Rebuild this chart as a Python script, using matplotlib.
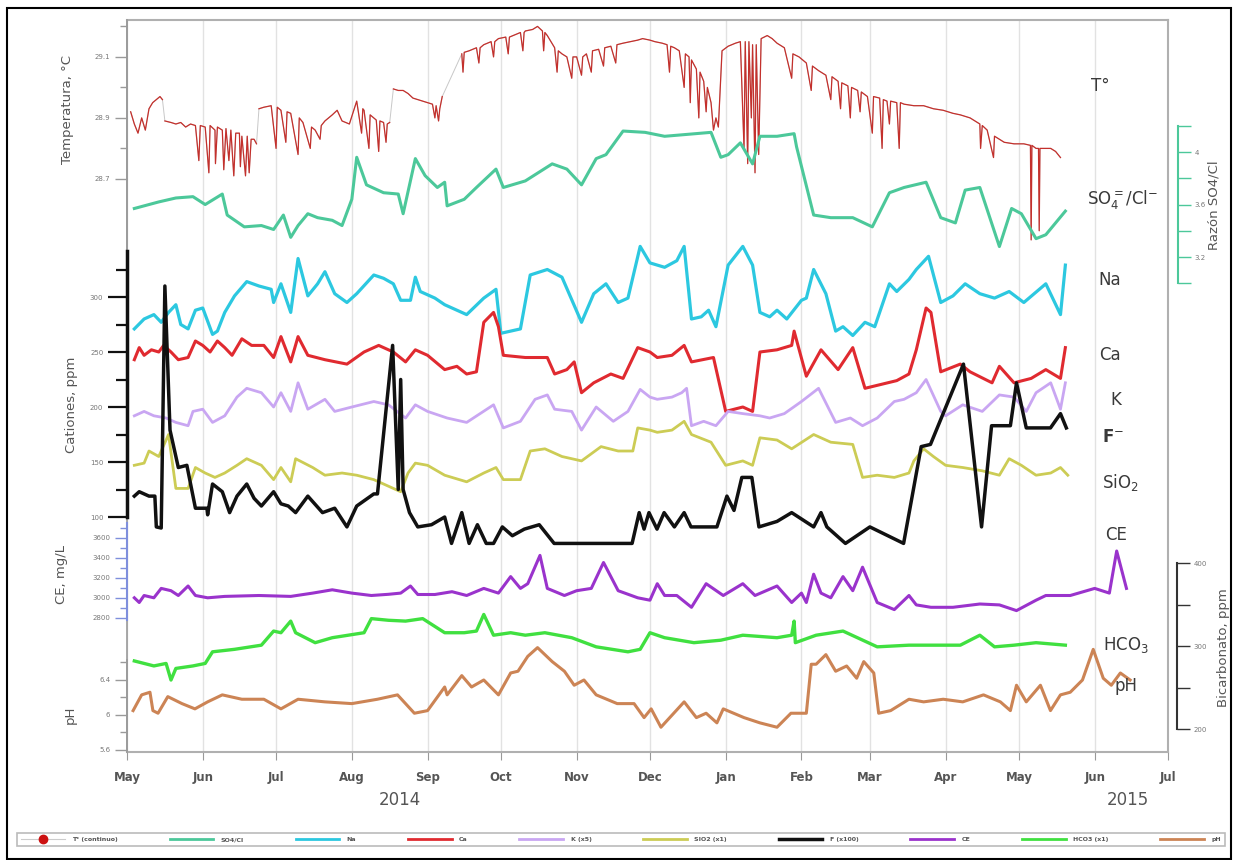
import numpy as np
import matplotlib
matplotlib.use('Agg')
import matplotlib.pyplot as plt
import matplotlib.dates as mdates
from matplotlib.lines import Line2D
from matplotlib.patches import Rectangle

# ---------------- data (day offsets from 2014-05-01, value) ----------------
month_labels = ['May', 'Jun', 'Jul', 'Aug', 'Sep', 'Oct', 'Nov', 'Dec',
                'Jan', 'Feb', 'Mar', 'Apr', 'May', 'Jun', 'Jul']
year_labels = ['2014', '2015']

temp_seg1 = [(1.5,28.92),(3,28.88),(4.5,28.85),(6,28.90),(7.5,28.86),(9,28.93),(10.5,28.95),
             (12,28.96),(13.5,28.97),(14.5,28.96)]
temp_seg2 = [(15.5,28.89),(18,28.885),(20,28.88),(22,28.885),(24,28.87),(26,28.88),(28,28.875),
             (29.4,28.76),(30,28.875),(32,28.87),(33.5,28.72),(34,28.875),(36,28.86),(36.2,28.75),
             (37,28.87),(39,28.86),(39.6,28.73),(40.5,28.865),(41.7,28.76),(42.5,28.86),(43.7,28.71),
             (44.5,28.85),(46,28.85),(46.4,28.74),(47,28.84),(48.5,28.71),(49.2,28.84),(50,28.72),
             (50.8,28.83),(52,28.83),(53,28.815)]
temp_seg3 = [(54,28.93),(56,28.935),(59,28.94),(61,28.80),(61.5,28.935),(63,28.925),(65,28.82),
             (65.5,28.92),(67,28.915),(70,28.78),(70.5,28.90),(72,28.885),(75,28.80),(75.5,28.87),
             (77,28.86),(79,28.83),(79.5,28.875),(81,28.89),(84,28.91),(86,28.925),(88,28.89),
             (91,28.88),(94,28.955),(96,28.85),(96.5,28.93),(97,28.925),(99,28.80),(99.5,28.91),
             (102,28.893),(103,28.79),(103.5,28.89),(105,28.885),(106,28.82),(106.5,28.88),(107.5,28.885)]
temp_seg4 = [(109,28.995),(111,28.99),(113,28.99),(115,28.98),(117,28.965),(119,28.96),(121,28.955),
             (123,28.95),(125,28.945),(126,28.90),(126.5,28.94),(127.5,28.89),(128,28.93),(129,28.97)]
temp_seg5 = [(137,29.11),(137.5,29.05),(138,29.115),(140,29.12),(143,29.13),(144,29.08),(144.5,29.13),
             (146,29.14),(149,29.15),(150,29.10),(150.5,29.15),(152,29.16),(155,29.165),(156,29.11),
             (156.5,29.165),(158,29.17),(161,29.18),(162,29.12),(162.5,29.18),(163,29.185),(166,29.19),
             (168,29.20),(170,29.185),(170.5,29.12),(171,29.18),(172,29.17),(175,29.13),(176,29.05),
             (176.5,29.12),(178,29.11),(180,29.10),(182,29.03),(182.5,29.10),(184,29.10),(186,29.04),
             (186.5,29.10),(188,29.11),(190,29.05),(190.5,29.12),(193,29.125),(195,29.07),(195.5,29.13),
             (198,29.135),(200,29.08),(200.5,29.14),(203,29.145),(206,29.15),(209,29.155),(211,29.16),
             (214,29.155),(216,29.15),(219,29.145),(221,29.14),(222,29.05),(222.5,29.135),(224,29.13),
             (226,29.12),(228,29.00),(228.5,29.11),(230,29.10),(230.5,28.95),(231,29.09),(233,29.06),
             (234,28.90),(234.5,29.05),(236,29.02),(237,28.92),(237.5,29.00),(239,28.95),(240,28.86),
             (241,28.90),(242,28.87),(243.5,29.12),(246,29.135),(249,29.145),(251,29.15),(252.5,28.80),
             (253,29.15),(254,28.75),(254.5,29.15),(255.5,28.90),(256,29.14),(257,28.72),(257.5,29.14),
             (258.5,28.78),(259.5,29.16),(262,29.17),(264,29.16),(266,29.145),(269,29.13),(272,29.03),
             (272.5,29.11),(275,29.10),(278,29.08),(280,28.99),(280.5,29.07),(283,29.055),(286,29.04),
             (288,28.96),(288.5,29.035),(291,29.02),(292,28.93),(292.5,29.015),(295,29.005),(296,28.90),
             (296.5,29.00),(299,28.99),(300,28.92),(300.5,28.985),(303,28.97),(305,28.85),(305.5,28.97),
             (308,28.965),(309,28.80),(309.5,28.96),(311,28.955),(312,28.88),(312.5,28.955),(315,28.95),
             (316,28.80),(316.5,28.95),(318,28.945),(322,28.94),(326,28.94),(330,28.93),(334,28.925),
             (338,28.915),(341,28.91),(345,28.90),(349,28.88),(349.3,28.80),(350,28.875),(352,28.86),
             (354.6,28.77),(355,28.84),(357,28.83),(359,28.82),(363,28.815),(367,28.815),(369.7,28.81),
             (370,28.50),(370.3,28.81),(372,28.80),(373,28.80),(373.3,28.53),(373.6,28.80),(376,28.80),
             (378,28.80),(380,28.79),(382,28.77)]

so4cl = [(3,3.57),(7,3.59),(13,3.62),(20,3.65),(27,3.66),(32,3.60),(39,3.68),(41,3.52),(48,3.43),
         (55,3.44),(60,3.41),(64,3.52),(67,3.35),(70,3.44),(74,3.53),(78,3.50),(84,3.48),(88,3.44),
         (92,3.64),(94,3.96),(98,3.75),(105,3.69),(111,3.68),(113,3.53),(118,3.95),(122,3.82),
         (127,3.73),(130,3.77),(131,3.59),(138,3.64),(143,3.73),(151,3.87),(154,3.73),(163,3.78),
         (174,3.91),(180,3.87),(186,3.75),(192,3.95),(196,3.98),(203,4.16),(212,4.15),(220,4.12),
         (239,4.15),(243,3.96),(246,3.98),(251,4.07),(256,3.91),(259,4.12),(266,4.12),(273,4.14),
         (274,4.04),(281,3.52),(288,3.50),(297,3.50),(305,3.43),(312,3.69),(318,3.73),(327,3.77),
         (333,3.50),(339,3.46),(343,3.71),(349,3.73),(357,3.28),(362,3.57),(366,3.53),(372,3.34),
         (376,3.37),(384,3.55)]

na = [(3,271),(7,280),(11,284),(14,277),(17,286),(20,293),(22,275),(25,271),(28,288),(31,290),
      (35,266),(37,269),(40,286),(44,301),(49,314),(54,310),(59,307),(60,295),(63,312),(67,286),
      (70,335),(74,301),(78,312),(81,323),(85,303),(90,295),(94,303),(101,320),(105,317),(109,312),
      (112,297),(116,297),(118,318),(120,305),(126,299),(130,293),(139,284),(146,299),(151,307),
      (153,267),(161,271),(165,320),(172,325),(178,318),(186,277),(191,303),(196,312),(201,295),
      (205,299),(210,346),(214,331),(220,327),(225,333),(228,346),(231,280),(235,282),(238,288),
      (241,273),(246,329),(252,346),(256,329),(259,286),(263,282),(266,288),(270,280),(276,297),
      (278,299),(281,325),(286,303),(290,269),(293,273),(297,265),(302,277),(306,273),(312,312),
      (315,305),(320,316),(323,325),(328,337),(333,295),(338,301),(343,312),(349,303),(355,299),
      (361,305),(367,295),(376,312),(382,284),(384,329)]

ca = [(3,243),(5,254),(7,247),(10,252),(13,250),(15,256),(18,250),(21,243),(25,245),(28,260),
      (31,256),(34,250),(37,260),(40,254),(43,247),(47,262),(51,256),(56,256),(60,245),(63,264),
      (67,241),(70,264),(74,247),(81,243),(90,239),(97,250),(103,256),(109,250),(114,241),(118,252),
      (123,247),(130,234),(135,237),(139,230),(143,232),(146,277),(150,286),(152,273),(154,247),
      (163,245),(172,245),(175,230),(180,234),(183,241),(186,213),(191,222),(198,230),(203,226),
      (209,254),(214,250),(217,245),(223,247),(228,256),(231,241),(240,245),(245,196),(252,200),
      (256,196),(259,250),(266,252),(272,256),(273,269),(278,228),(284,252),(291,234),(297,254),
      (302,217),(315,224),(320,230),(323,252),(327,290),(329,286),(333,232),(341,239),(345,232),
      (354,222),(357,237),(363,222),(370,226),(376,234),(382,226),(384,254)]

k = [(3,192),(7,196),(11,192),(16,190),(20,186),(25,183),(27,196),(31,198),(35,186),(40,192),
     (45,209),(49,217),(55,213),(60,200),(63,213),(67,196),(70,222),(74,198),(81,207),(85,196),
     (92,200),(101,205),(107,202),(114,190),(118,202),(123,196),(131,190),(139,186),(150,202),
     (154,181),(161,187),(167,207),(172,211),(175,198),(182,196),(186,179),(192,200),(199,187),
     (205,196),(210,216),(214,209),(217,207),(223,209),(227,213),(229,217),(231,183),(236,187),
     (241,183),(246,196),(252,194),(259,192),(263,190),(269,194),(276,205),(283,217),(290,186),
     (296,190),(301,183),(307,190),(314,205),(318,207),(323,213),(327,225),(333,196),(335,192),
     (342,202),(350,196),(357,211),(363,209),(368,196),(372,213),(378,222),(382,198),(384,222)]

sio2 = [(3,147),(7,149),(9,160),(13,155),(17,175),(20,126),(25,126),(28,145),(32,140),(36,136),
        (40,140),(45,147),(49,153),(55,147),(60,134),(63,145),(67,132),(69,153),(76,145),(81,138),
        (88,140),(94,138),(101,134),(105,130),(112,123),(115,140),(118,149),(123,147),(130,138),
        (139,132),(146,140),(151,145),(154,134),(161,134),(165,160),(171,162),(178,155),(186,151),
        (194,164),(201,160),(207,160),(209,181),(214,179),(217,177),(223,179),(228,187),(231,175),
        (239,168),(245,147),(252,151),(256,147),(259,172),(266,170),(272,162),(281,175),(288,168),
        (297,166),(301,136),(307,138),(314,136),(320,140),(322,151),(326,162),(330,155),(335,147),
        (342,145),(350,142),(357,138),(361,153),(366,147),(372,138),(378,140),(382,145),(385,138)]

fluor = [(3,119),(5,123),(9,119),(11.4,119),(12,91),(14,90),(15.5,310),(17.6,179),(21,145),
         (24.5,147),(28,108),(32.7,108),(33,102),(35,130),(39,123),(42,104),(45,119),(49,130),
         (52,117),(55,110),(60,123),(63,112),(66,110),(69,104),(74,119),(80,104),(85,108),(90,91),
         (94,110),(101,121),(102.5,121),(108.7,256),(111,125),(112,225),(113,125),(115.6,104),
         (119,91),(124.6,93),(130,100),(132.8,76),(137,104),(140,76),(143.4,93),(147,76),(150,76),
         (153.6,91),(157.7,83),(162.6,89),(168.7,93),(174.8,76),(206.7,76),(209.6,104),(211.6,89),
         (213.6,104),(216.9,89),(219.8,104),(224,91),(228,104),(230.8,91),(241.4,91),(245.5,119),
         (248.4,106),(251.6,136),(255.7,136),(258.6,91),(266,96),(272,104),(281,91),(284,104),
         (286.4,91),(294,76),(304,91),(317.8,76),(325,164),(328.8,166),(342.3,239),(349.7,91),
         (353.8,183),(361.5,183),(364,222),(368,181),(377.9,181),(382,194),(384.4,181)]

ce = [(3,3002),(5,2955),(7,3025),(11,3002),(14,3096),(18,3073),(21,3025),(25,3120),(28,3025),
      (33,3002),(40,3016),(54,3025),(67,3016),(76,3049),(84,3082),(92,3049),(100,3025),(107,3037),
      (112,3049),(116,3120),(119,3035),(126,3035),(133,3063),(139,3025),(146,3096),(152,3049),
      (157,3214),(161,3096),(164,3143),(169,3426),(172,3096),(179,3025),(184,3073),(190,3096),
      (195,3355),(201,3073),(209,3002),(214,2978),(217,3143),(220,3025),(225,3025),(231,2907),
      (237,3143),(244,3025),(252,3143),(257,3025),(266,3120),(272,2955),(276,3049),(278,2955),
      (281,3238),(284,3049),(288,3002),(293,3214),(297,3073),(301,3308),(307,2955),(314,2884),
      (320,3025),(323,2931),(329,2907),(338,2907),(349,2940),(357,2931),(364,2874),(372,2978),
      (376,3025),(386,3025),(396,3096),(402,3049),(405,3470),(409,3096)]

hco3 = [(3,282),(11,276),(16,279),(18,259),(20,273),(27,276),(32,279),(35,293),(44,296),(55,301),
        (60,318),(63,316),(67,330),(69,316),(77,304),(84,310),(97,316),(100,333),(107,331),(114,330),
        (121,333),(130,316),(138,316),(143,318),(146,338),(150,313),(157,316),(163,313),(171,316),
        (182,310),(192,299),(205,293),(210,296),(214,316),(220,310),(232,304),(243,307),(252,313),
        (266,310),(272,313),(273,330),(273.5,304),(282,313),(293,318),(307,299),(320,301),(331,301),
        (341,301),(349,313),(355,299),(363,301),(372,304),(384,301)]

ph = [(2.5,6.05),(6,6.23),(9.4,6.26),(10.6,6.05),(12.7,6.02),(16.7,6.21),(22.5,6.13),(27.8,6.07),
      (33,6.15),(39,6.23),(47,6.18),(56,6.18),(63,6.07),(70,6.18),(81,6.15),(92,6.13),(102.5,6.18),
      (110.7,6.23),(117.6,6.02),(123,6.05),(130,6.32),(131,6.23),(137,6.45),(141,6.32),(146,6.40),
      (152,6.23),(157,6.48),(160,6.50),(164,6.67),(168,6.77),(174,6.61),(179,6.50),(183,6.34),
      (187,6.40),(192,6.23),(200.6,6.13),(207.5,6.13),(211.6,5.97),(214.5,6.07),(218.5,5.86),
      (228,6.15),(233,5.97),(237,6.02),(241.4,5.91),(244,6.07),(252.5,5.97),(259,5.91),(266,5.86),
      (271.7,6.02),(278,6.02),(280,6.58),(282,6.58),(286,6.69),(290,6.50),(294.5,6.56),(298.6,6.42),
      (301.5,6.61),(305.6,6.48),(307.6,6.02),(312.5,6.05),(320,6.18),(326,6.15),(334,6.18),
      (342,6.15),(350.5,6.23),(357.4,6.15),(361.5,6.05),(364,6.34),(368,6.15),(373.8,6.34),
      (377.9,6.05),(382,6.23),(386,6.26),(391,6.40),(395.4,6.75),(399.5,6.42),(402.8,6.34),
      (406.5,6.48),(410.5,6.40)]

legend_labels = ['T° (continuo)', 'SO4/Cl', 'Na', 'Ca', 'K (x5)', 'SIO2 (x1)', 'F (x100)',
                 'CE', 'HCO3 (x1)', 'pH']

# ---------------- helpers ----------------
X0 = mdates.date2num(np.datetime64('2014-05-01'))
X1 = mdates.date2num(np.datetime64('2015-07-01'))


def xy(pairs):
    d = np.array([p[0] for p in pairs], dtype=float)
    v = np.array([p[1] for p in pairs], dtype=float)
    return X0 + d, v


W, H = 1238, 860
fig = plt.figure(figsize=(W / 100, H / 100), dpi=100)
fig.patch.set_facecolor('white')

L, R, T, B = 127, 1168, 20, 752
rect = [L / W, 1 - B / H, (R - L) / W, (B - T) / H]
ax = fig.add_axes(rect)
ax.set_xlim(X0, X1)
ax.set_ylim(0, 1)
ax.set_yticks([])
for s in ['top', 'right', 'bottom', 'left']:
    ax.spines[s].set_color('#b0b0b0')
    ax.spines[s].set_linewidth(1.5)
ax.spines['left'].set_color('#9a9a9a')
ax.spines['left'].set_linewidth(1.2)
ax.xaxis.set_major_locator(mdates.MonthLocator())
ax.set_xticks(ax.get_xticks())
ax.set_xticklabels(month_labels, fontweight='bold', fontsize=8.5, color='#555555')
ax.tick_params(axis='x', length=6, color='#999999', pad=8)
ax.grid(axis='x', color='#e2e2e2', lw=1.0)
ax.set_axisbelow(True)


def make_axis(ylim, side, bounds, color, major, labels, minor, lw=1.2, pos=None,
              maj_len=9, min_len=5, tw=1.0, lab_color='#777777', lab_size=5):
    a = ax.twinx()
    a.set_ylim(*ylim)
    for s in a.spines.values():
        s.set_visible(False)
    sp = a.spines[side]
    sp.set_visible(True)
    sp.set_bounds(*bounds)
    sp.set_color(color)
    sp.set_linewidth(lw)
    if pos is not None:
        sp.set_position(('axes', pos))
    if side == 'left':
        a.yaxis.tick_left()
    else:
        a.yaxis.tick_right()
    a.set_yticks(major)
    a.set_yticklabels(labels)
    a.set_yticks(minor, minor=True)
    a.tick_params(axis='y', which='major', length=maj_len, width=tw, color=color,
                  labelsize=lab_size, labelcolor=lab_color, pad=3)
    a.tick_params(axis='y', which='minor', length=min_len, width=tw, color=color)
    return a


# temperature axis
axT = make_axis((26.821, 29.221), 'left', (28.47, 29.221), '#9a9a9a',
                [28.7, 28.9, 29.1], ['28.7', '28.9', '29.1'], [28.8, 29.0, 29.2])
# SO4/Cl axis (right)
axS = make_axis((-0.571, 5.006), 'right', (3.0, 4.2), '#4cc89a',
                [3.2, 3.6, 4.0], ['3.2', '3.6', '4'], [3.0, 3.4, 3.8, 4.2], pos=1.0096,
                lw=1.5, maj_len=9, min_len=9)
# cations axis
axC = make_axis((-113.6, 551.8), 'left', (100, 342), '#111111',
                [100, 150, 200, 250, 300], ['100', '150', '200', '250', '300'],
                [125, 175, 225, 275, 325], lw=2.5, maj_len=14, min_len=8, tw=1.6)
# CE axis
axE = make_axis((1460, 8780), 'left', (2780, 3750), '#7f8fdc',
                [2800, 3000, 3200, 3400, 3600], ['2800', '3000', '3200', '3400', '3600'],
                [2900, 3100, 3300, 3500, 3700], lw=1.5, maj_len=9, min_len=5)
# bicarbonate axis (right)
axH = make_axis((172.3, 1054.2), 'right', (200, 400), '#333333',
                [200, 300, 400], ['200', '300', '400'], [250, 350], pos=1.0086,
                lw=1.5, maj_len=9, min_len=9)
# pH axis
axP = make_axis((5.577, 13.943), 'left', (5.577, 6.63), '#9a9a9a',
                [5.6, 6.0, 6.4], ['5.6', '6', '6.4'], [5.8, 6.2, 6.6])

# ---------------- series ----------------
segs = [temp_seg1, temp_seg2, temp_seg3, temp_seg4, temp_seg5]
allx, ally = xy([p for sgm in segs for p in sgm])
axT.plot(allx, ally, color='#c8c8c8', lw=0.7, zorder=1)
for sgm in segs:
    tx, tv = xy(sgm)
    axT.plot(tx, tv, color='#c4302c', lw=0.9, zorder=2)

c_so4 = '#4cc89a'
c_na = '#2cc8e0'
c_ca = '#e02a30'
c_k = '#c9a6f2'
c_si = '#cccc55'
c_f = '#111111'
c_ce = '#9a33cc'
c_hco = '#40e040'
c_ph = '#cc8455'

axS.plot(*xy(so4cl), color=c_so4, lw=2.2)
axC.plot(*xy(na), color=c_na, lw=2.3)
axC.plot(*xy(ca), color=c_ca, lw=2.2)
axC.plot(*xy(k), color=c_k, lw=2.0)
axC.plot(*xy(sio2), color=c_si, lw=2.0)
axC.plot(*xy(fluor), color=c_f, lw=2.5)
axE.plot(*xy(ce), color=c_ce, lw=2.2)
axH.plot(*xy(hco3), color=c_hco, lw=2.4)
axP.plot(*xy(ph), color=c_ph, lw=2.2)

# ---------------- texts ----------------
def ftext(px, py, s, **kw):
    fig.text(px / W, 1 - py / H, s, **kw)

lab_kw = dict(color='#555555', fontsize=9.5, rotation=90, ha='center', va='center')
ftext(67, 110, 'Temperatura, °C', **lab_kw)
ftext(72, 405, 'Cationes, ppm', **lab_kw)
ftext(62, 575, 'CE, mg/L', **lab_kw)
ftext(70, 715, 'pH', **lab_kw)
ftext(1214, 205, 'Razón SO4/Cl', **lab_kw)
ftext(1224, 648, 'Bicarbonato, ppm', **lab_kw)

ftext(400, 800, year_labels[0], color='#555555', fontsize=12, ha='center', va='center')
ftext(1128, 800, year_labels[1], color='#555555', fontsize=12, ha='center', va='center')

ser_kw = dict(color='#3a3a3a', fontsize=12, ha='center', va='center')
ftext(1100, 86, 'T°', **ser_kw)
ftext(1123, 200, r'SO$_4^{=}$/Cl$^{-}$', **ser_kw)
ftext(1110, 280, 'Na', **ser_kw)
ftext(1110, 355, 'Ca', **ser_kw)
ftext(1116, 400, 'K', **ser_kw)
ftext(1113, 437, r'$\mathbf{F}^{-}$', **ser_kw)
ftext(1120, 482, r'SiO$_2$', **ser_kw)
ftext(1116, 535, 'CE', **ser_kw)
ftext(1126, 645, r'HCO$_3$', **ser_kw)
ftext(1126, 686, 'pH', **ser_kw)

# ---------------- legend ----------------
handles = [
    Line2D([0], [0], color='#cccccc', lw=0.8, marker='o', markersize=6,
           markerfacecolor='#cc1111', markeredgecolor='#cc1111'),
    Line2D([0], [0], color=c_so4, lw=2),
    Line2D([0], [0], color=c_na, lw=2),
    Line2D([0], [0], color=c_ca, lw=2),
    Line2D([0], [0], color=c_k, lw=2),
    Line2D([0], [0], color=c_si, lw=2),
    Line2D([0], [0], color=c_f, lw=2.5),
    Line2D([0], [0], color=c_ce, lw=2),
    Line2D([0], [0], color=c_hco, lw=2),
    Line2D([0], [0], color=c_ph, lw=2),
]
leg = fig.legend(handles, legend_labels, loc='lower left', mode='expand', ncol=10,
                 bbox_to_anchor=(14 / W, 1 - 849 / H, 1214 / W, 22 / H), fontsize=4.5,
                 handlelength=7, numpoints=1, frameon=True, fancybox=False,
                 borderpad=0.6, columnspacing=1.0, handletextpad=1.2)
leg.get_frame().set_edgecolor('#aaaaaa')
leg.get_frame().set_linewidth(1.2)
for t in leg.get_texts():
    t.set_color('#555555')
    t.set_fontweight('bold')

# outer frame
fig.patches.append(Rectangle((7 / W, 1 / H), 1224 / W, 851 / H, transform=fig.transFigure,
                             fill=False, ec='black', lw=1.5))

fig.savefig('out.png', dpi=100)
